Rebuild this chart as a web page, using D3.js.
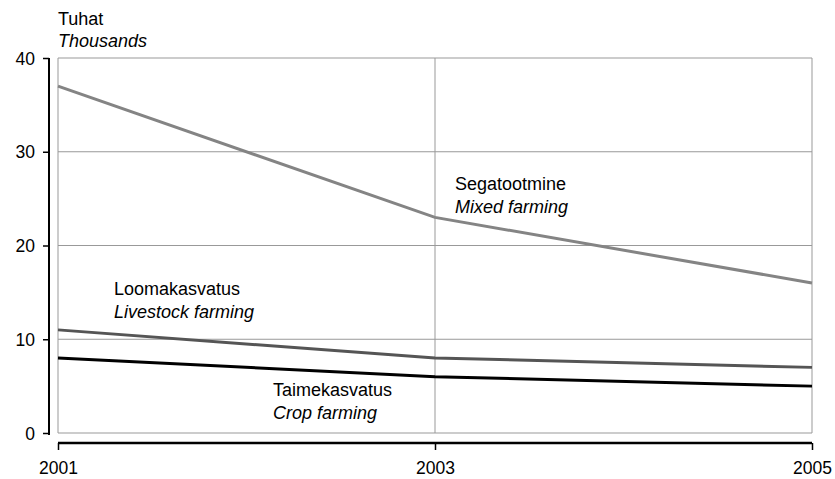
<!DOCTYPE html>
<html><head><meta charset="utf-8">
<script src="https://cdn.jsdelivr.net/npm/d3@7"></script>
<style>body{margin:0;background:#fff}svg{display:block}text{font-family:"Liberation Sans",Arial,sans-serif;font-size:18px;fill:#000}</style>
</head><body><svg width="835" height="479"></svg>
<script>
const years = [2001, 2003, 2005];
const yTicks = [0, 10, 20, 30, 40];
const mixed = [37, 23, 16];
const livestock = [11, 8, 7];
const crop = [8, 6, 5];
const seriesNames = ["Segatootmine", "Loomakasvatus", "Taimekasvatus"];
const seriesNamesEn = ["Mixed farming", "Livestock farming", "Crop farming"];

const svg = d3.select("svg");
const x = d3.scaleLinear().domain([2001, 2005]).range([58, 812]);
const y = d3.scaleLinear().domain([0, 40]).range([433, 58]);

// grid
const g = svg.append("g");
g.selectAll(".h").data(yTicks).enter().append("line")
  .attr("x1", x(2001)).attr("x2", x(2005)).attr("y1", d => y(d)).attr("y2", d => y(d))
  .attr("stroke", "#999").attr("stroke-width", 1);
g.selectAll(".v").data(years).enter().append("line")
  .attr("x1", d => x(d)).attr("x2", d => x(d)).attr("y1", y(0)).attr("y2", y(40))
  .attr("stroke", "#999").attr("stroke-width", 1);

// y axis
const ya = svg.append("g").attr("transform", "translate(49,0)")
  .call(d3.axisLeft(y).tickValues(yTicks).tickSize(6).tickPadding(8).tickFormat(d3.format("d")));
ya.select(".domain").attr("stroke", "#000").attr("stroke-width", 2).attr("d", `M0,${y(40)}V${y(0)+2}`);
ya.selectAll(".tick line").attr("stroke", "#000").attr("stroke-width", 1.5);
ya.selectAll("text").style("font-size", "17.5px").style("font-family", "'Liberation Sans',Arial,sans-serif").attr("dy", "0.35em").attr("fill", "#000");

// x axis
const xa = svg.append("g").attr("transform", "translate(0,443)")
  .call(d3.axisBottom(x).tickValues(years).tickSize(7).tickPadding(12).tickFormat(d3.format("d")));
xa.select(".domain").attr("stroke", "#000").attr("stroke-width", 2.5).attr("d", `M${x(2001)},0H${x(2005)}`);
xa.selectAll(".tick line").attr("stroke", "#000").attr("stroke-width", 1.5);
xa.selectAll("text").style("font-size", "17.5px").style("font-family", "'Liberation Sans',Arial,sans-serif").attr("fill", "#000");

// lines
const line = d3.line().x((d, i) => x(years[i])).y(d => y(d));
const series = [
  {v: mixed, c: "#848484"},
  {v: livestock, c: "#555555"},
  {v: crop, c: "#000000"}
];
svg.selectAll(".s").data(series).enter().append("path")
  .attr("d", d => line(d.v)).attr("fill", "none")
  .attr("stroke", d => d.c).attr("stroke-width", 3);

// labels
const lab = [
  {x: 455, y: 190, i: 0},
  {x: 114, y: 295, i: 1},
  {x: 273, y: 396, i: 2}
];
lab.forEach(l => {
  svg.append("text").attr("x", l.x).attr("y", l.y).text(seriesNames[l.i]);
  svg.append("text").attr("x", l.x).attr("y", l.y + 23).style("font-style", "italic").text(seriesNamesEn[l.i]);
});
svg.append("text").attr("x", 58).attr("y", 25).text("Tuhat");
svg.append("text").attr("x", 58).attr("y", 47).style("font-style", "italic").text("Thousands");
</script></body></html>
